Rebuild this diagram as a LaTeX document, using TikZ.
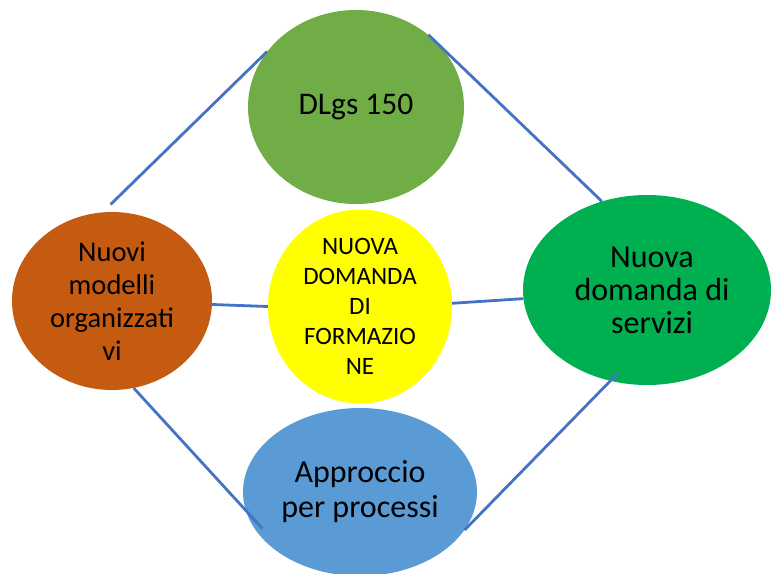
\documentclass[tikz,border=0pt]{standalone}
\usepackage{fontspec}
\setmainfont{Carlito}
\usetikzlibrary{shapes.geometric}
\definecolor{cTop}{HTML}{70AD47}
\definecolor{cLeft}{HTML}{C55A11}
\definecolor{cRight}{HTML}{00B050}
\definecolor{cMid}{HTML}{FFFF00}
\definecolor{cBot}{HTML}{5B9BD5}
\definecolor{cLine}{HTML}{4472C4}
\tikzset{
  bubble/.style={ellipse, inner sep=0pt, align=center, text=black, draw=none},
  conn/.style={draw=cLine, line width=2.8pt}
}
\begin{document}
\begin{tikzpicture}[x=1pt,y=-1pt]
\useasboundingbox (0,0) rectangle (771,573);
\node[bubble, fill=cTop, minimum width=216pt, minimum height=194pt, font=\fontsize{31.5}{34}\selectfont] (top) at (356,107) {DLgs 150};
\node[bubble, fill=cLeft, minimum width=200pt, minimum height=178pt, font=\fontsize{28.5}{33}\selectfont] (left) at (112,301) {Nuovi\\modelli\\organizzati\\vi};
\node[bubble, fill=cRight, minimum width=248pt, minimum height=190pt, font=\fontsize{32}{33}\selectfont] (right) at (647,290) {\hspace*{10pt}Nuova\\\hspace*{10pt}domanda di\\\hspace*{10pt}servizi};
\node[bubble, fill=cBot, minimum width=234pt, minimum height=168pt, font=\fontsize{32}{35}\selectfont] (bot) at (360,492) {Approccio\\per processi};
\node[bubble, fill=cMid, minimum width=184pt, minimum height=194pt, font=\fontsize{25}{30}\selectfont] (mid) at (360,306.5) {NUOVA\\DOMANDA\\DI\\FORMAZIO\\NE};
\draw[conn, shorten <=11pt] (left.96) -- (top.148);
\draw[conn] (top.45) -- (right.117);
\draw[conn] (left.-2) -- (mid.west);
\draw[conn] (mid.2) -- (right.184);
\draw[conn, shorten >=-25pt] (left.284) -- (bot.189);
\draw[conn, shorten >=-11pt] (bot.340) -- (right.248);
\end{tikzpicture}
\end{document}
